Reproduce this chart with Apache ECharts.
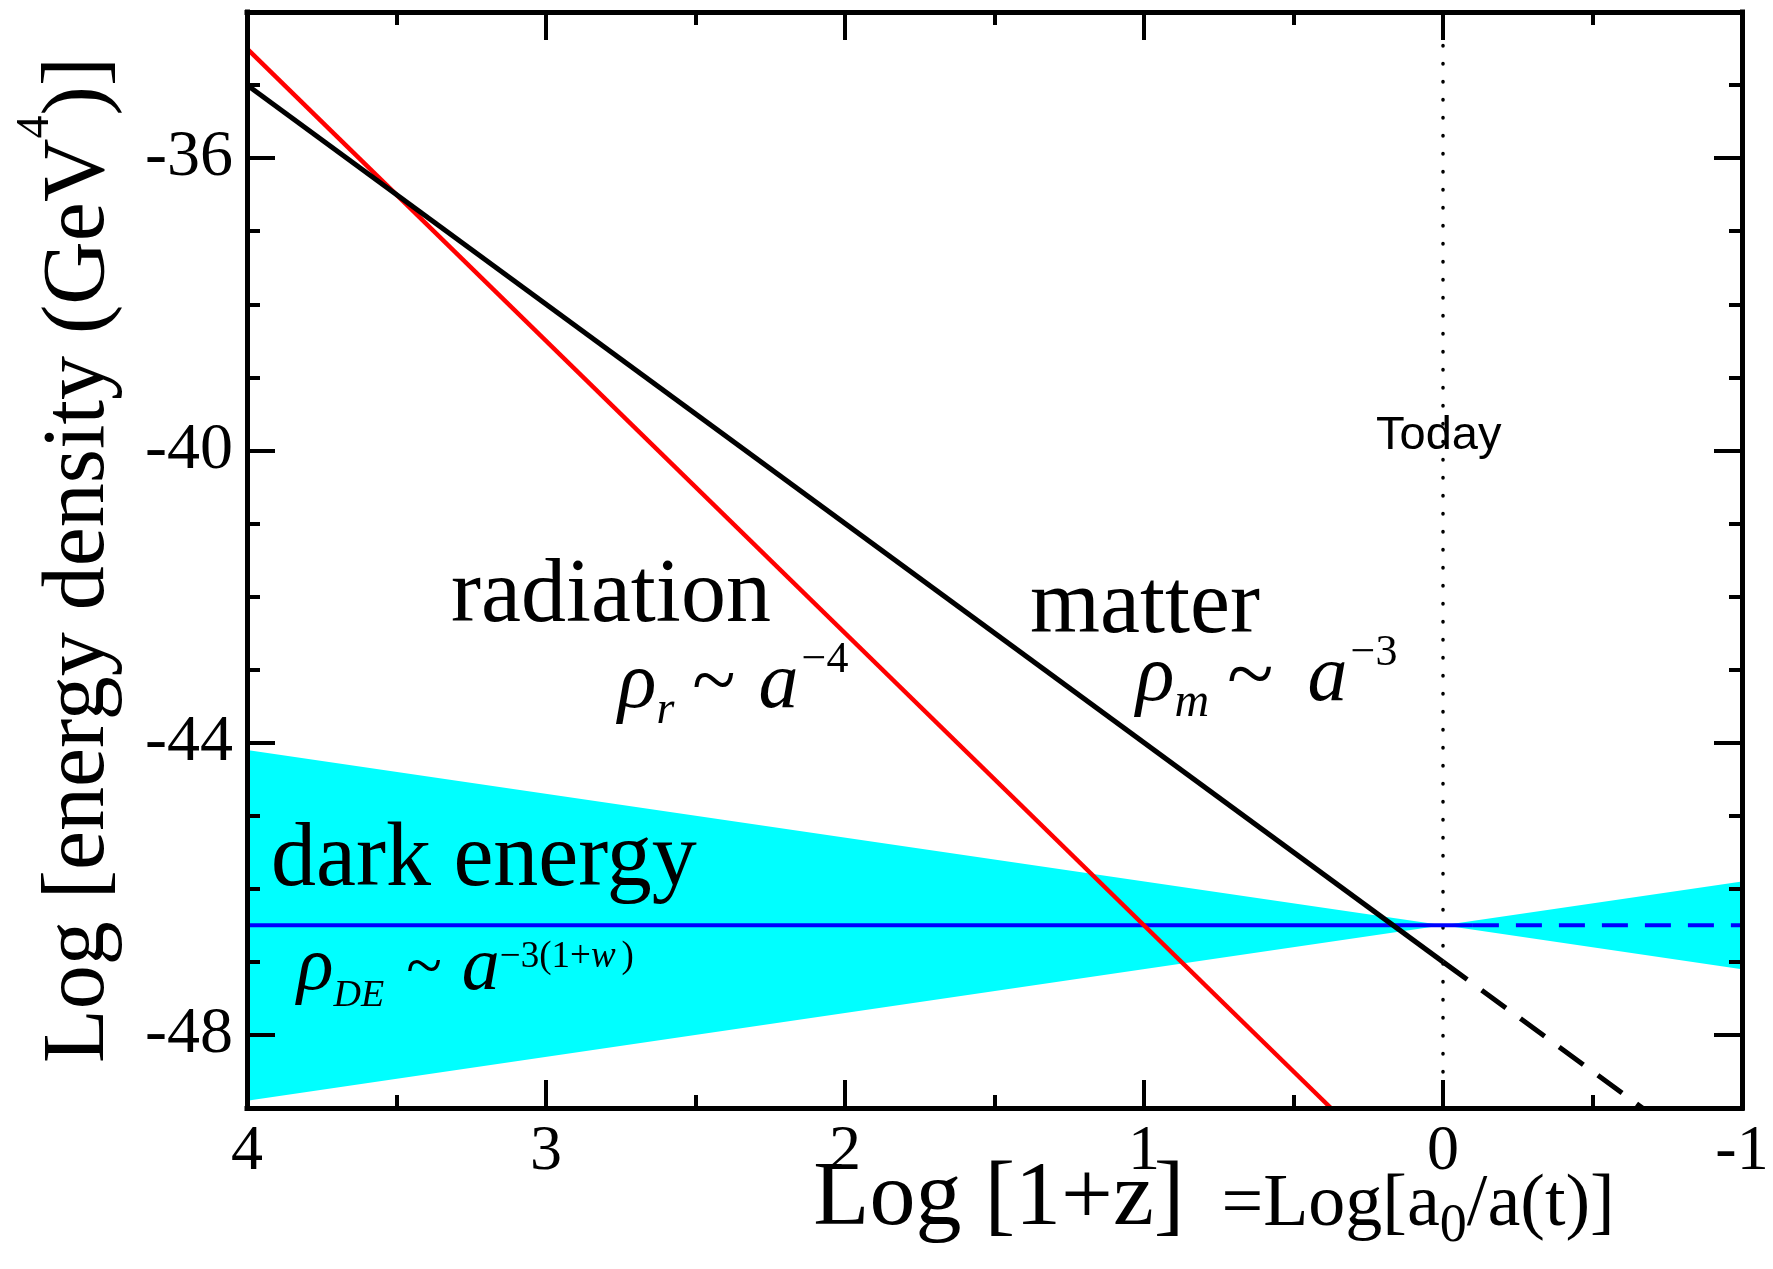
<!DOCTYPE html>
<html><head><meta charset="utf-8">
<script src="https://cdn.jsdelivr.net/npm/echarts@6/dist/echarts.min.js"></script>
<style>html,body{margin:0;padding:0;background:#fff}#c{width:1773px;height:1269px}</style>
</head><body><div id="c"></div>
<script>
// ---- data ----
const xTickValues = [4, 3, 2, 1, 0, -1];
const yTickValues = [-48, -44, -40, -36];
const yMinorTickValues = [-47, -46, -45, -43, -42, -41, -39, -38, -37, -35];
const radiationX = [4, 0.375];
const radiationY = [-34.5, -49];
const matterX = [4, 0];
const matterY = [-35, -47];
const matterFutureX = [0, -0.667];
const matterFutureY = [-47, -49];
const darkEnergyX = [4, -0.1];
const darkEnergyY = [-46.5, -46.5];
const darkEnergyFutureX = [-0.1, -1];
const darkEnergyFutureY = [-46.5, -46.5];
const bandX = [4, 0, -1];
const bandUpper = [-44.1, -46.5, -45.9];
const bandLower = [-48.9, -46.5, -47.1];
const todayX = [0, 0];
const todayY = [-49, -34];

const SERIF = '"Liberation Serif", "Times New Roman", serif';
const SANS = '"Liberation Sans", Arial, sans-serif';
const pairs = (xs, ys) => xs.map((x, i) => [x, ys[i]]);

const axisLineStyle = {color: '#000', width: 5, cap: 'square'};
function xAx(pos, showLabel, extra) {
  return Object.assign({
    type: 'value', position: pos, min: -1, max: 4, interval: 1, inverse: true, z: 10,
    axisLine: {show: true, onZero: false, lineStyle: axisLineStyle},
    axisTick: {show: true, inside: true, length: 28, lineStyle: {color: '#000', width: 4}},
    minorTick: {show: true, splitNumber: 2, length: 13, lineStyle: {color: '#000', width: 4}},
    splitLine: {show: false}, minorSplitLine: {show: false},
    axisLabel: {show: showLabel, margin: 12, fontFamily: SERIF, fontSize: 64, color: '#000'}
  }, extra || {});
}
function yAx(pos, ticks, len, showLine, showLabel, extra) {
  return Object.assign({
    type: 'value', position: pos, min: -49, max: -34, z: 10,
    axisLine: {show: showLine, onZero: false, lineStyle: axisLineStyle},
    axisTick: {show: true, inside: true, length: len, customValues: ticks, lineStyle: {color: '#000', width: 4}},
    axisLabel: {show: showLabel, customValues: ticks, margin: 14, fontFamily: SERIF, fontSize: 66, color: '#000'},
    splitLine: {show: false}
  }, extra || {});
}

function tok(size, italic, extra) {
  return Object.assign({fontFamily: SERIF, fontStyle: italic ? 'italic' : 'normal', fontSize: size,
    lineHeight: size, fill: '#000', color: '#000'}, extra || {});
}
function formula(x, baseline, main, text, rich) {
  return {type: 'text', z: 100, x: x, y: baseline - 0.3 * main,
    style: {text: text, rich: rich, fontFamily: SERIF, fontSize: main, fill: '#000',
      align: 'left', verticalAlign: 'middle', textAlign: 'left', textVerticalAlign: 'middle'}};
}
function label(x, baseline, size, family, text) {
  return {type: 'text', z: 100, x: x, y: baseline - 0.3 * size,
    style: {text: text, fontFamily: family, fontSize: size, fill: '#000', align: 'left', verticalAlign: 'middle', textAlign: 'left', textVerticalAlign: 'middle'}};
}

const richRad = {
  it: tok(80, true, {lineHeight: 96}),
  sub: tok(46, true, {verticalAlign: 'bottom'}),
  tl: tok(80, false, {lineHeight: 96, padding: [0, 23, 0, 18]}),
  sup: tok(44, false, {verticalAlign: 'top', padding: [0, 0, 0, 3]})
};
const richMat = {
  it: tok(80, true, {lineHeight: 96}),
  sub: tok(48, true, {verticalAlign: 'bottom'}),
  tl: tok(86, false, {lineHeight: 96, padding: [0, 34, 0, 18]}),
  sup: tok(44, false, {verticalAlign: 'top', padding: [0, 0, 0, 3]})
};
const richDE = {
  it: tok(76, true, {lineHeight: 96}),
  sub: tok(38, true, {verticalAlign: 'bottom', padding: [0, 0, 2, 0]}),
  tl: tok(66, false, {lineHeight: 96, padding: [0, 20, 0, 22]}),
  sup: tok(37, false, {verticalAlign: 'top', padding: [18, 0, 0, 0]}),
  supi: tok(37, true, {verticalAlign: 'top', padding: [18, 0, 0, 0]}),
  supp: tok(37, false, {verticalAlign: 'top', padding: [18, 0, 0, 6]})
};

const chart = echarts.init(document.getElementById('c'), null, {renderer: 'canvas'});
chart.setOption({
  animation: false,
  backgroundColor: '#fff',
  grid: {left: 247, right: 31, top: 12, bottom: 161, containLabel: false, outerBoundsMode: 'none'},
  xAxis: [
    xAx('bottom', true, {
      name: '{a|Log [1+z]}{b|  =Log[a}{c|0}{b|/a(t)]}',
      nameLocation: 'middle', nameGap: 46, nameMoveOverlap: false,
      nameTextStyle: {padding: [0, 0, 0, 439], rich: {
        a: {fontFamily: SERIF, fontSize: 92, lineHeight: 92, color: '#000'},
        b: {fontFamily: SERIF, fontSize: 74, lineHeight: 74, padding: [11, 0, 0, 0], color: '#000'},
        c: {fontFamily: SERIF, fontSize: 54, lineHeight: 54, padding: [53, 0, 0, 0], color: '#000'}
      }}
    }),
    xAx('top', false)
  ],
  yAxis: [
    yAx('left', yTickValues, 28, true, true, {
      name: '{n|Log [energy density (GeV}{s|4}{n|)]}',
      nameLocation: 'middle', nameGap: 100, nameRotate: 90,
      nameTextStyle: {rich: {
        n: {fontFamily: SERIF, fontSize: 88, lineHeight: 134, color: '#000'},
        s: {fontFamily: SERIF, fontSize: 46, lineHeight: 46, verticalAlign: 'top', color: '#000'}
      }}
    }),
    yAx('left', yMinorTickValues, 13, false, false),
    yAx('right', yTickValues, 28, true, false),
    yAx('right', yMinorTickValues, 13, false, false)
  ],
  series: [
    {type: 'custom', name: 'dark energy band', coordinateSystem: 'cartesian2d', silent: true, z: 1,
      data: bandX.map((x, i) => [x, bandUpper[i], bandLower[i]]),
      encode: {x: 0, y: [1, 2]},
      renderItem: function (params, api) {
        if (params.dataIndex !== 0) return null;
        const upper = bandX.map((x, i) => api.coord([x, bandUpper[i]]));
        const lower = bandX.map((x, i) => api.coord([x, bandLower[i]])).reverse();
        return {type: 'polygon', shape: {points: upper.concat(lower)}, style: {fill: '#00ffff'}};
      }},
    {type: 'line', name: 'today', data: pairs(todayX, todayY), symbol: 'none', silent: true, z: 3,
      lineStyle: {color: '#000', width: 3.5, type: [0.5, 17.5], cap: 'round'}},
    {type: 'line', name: 'dark energy', data: pairs(darkEnergyX, darkEnergyY), symbol: 'none', z: 4,
      lineStyle: {color: '#0000ff', width: 4}},
    {type: 'line', name: 'dark energy future', data: pairs(darkEnergyFutureX, darkEnergyFutureY), symbol: 'none', z: 4,
      lineStyle: {color: '#0000ff', width: 4, type: [26, 17]}},
    {type: 'line', name: 'radiation', data: pairs(radiationX, radiationY), symbol: 'none', z: 5,
      lineStyle: {color: '#ff0000', width: 4.5}},
    {type: 'line', name: 'matter', data: pairs(matterX, matterY), symbol: 'none', z: 5,
      lineStyle: {color: '#000', width: 5}},
    {type: 'line', name: 'matter future', data: pairs(matterFutureX, matterFutureY), symbol: 'none', z: 5,
      lineStyle: {color: '#000', width: 5, type: [30, 18]}}
  ],
  graphic: {elements: [
    label(1376, 450, 47, SANS, 'Today'),
    label(451, 624, 90, SERIF, 'radiation'),
    label(1030, 635, 90, SERIF, 'matter'),
    label(271, 888, 90, SERIF, 'dark energy'),
    formula(618, 710, 80, '{it|ρ}{sub|r}{tl|~}{it|a}{sup|−4}', richRad),
    formula(1136, 703, 80, '{it|ρ}{sub|m}{tl|~}{it|a}{sup|−3}', richMat),
    formula(297, 992, 76, '{it|ρ}{sub|DE}{tl|~}{it|a}{sup|−3(1+}{supi|w}{supp|)}', richDE)
  ]}
});
</script>
</body></html>
